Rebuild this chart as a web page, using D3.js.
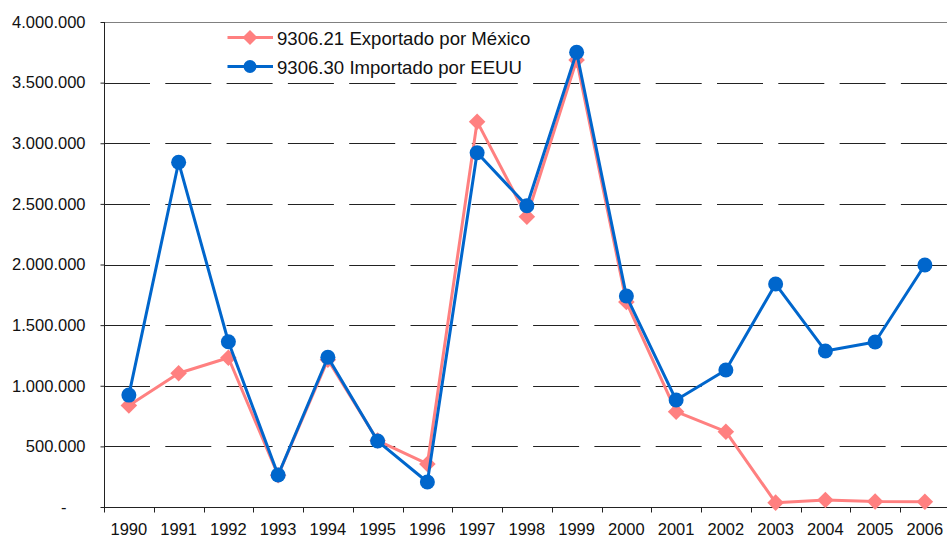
<!DOCTYPE html>
<html>
<head>
<meta charset="utf-8">
<script src="https://cdn.jsdelivr.net/npm/d3@7"></script>
<style>
  body { margin: 0; background: #fff; }
  svg { display: block; font-family: "Liberation Sans", Arial, sans-serif; }
</style>
</head>
<body>
<div id="chart"></div>
<script>
const years = ['1990','1991','1992','1993','1994','1995','1996','1997','1998','1999',
               '2000','2001','2002','2003','2004','2005','2006'];
// 9306.21 Exportado por México
const exportMx = [838000, 1103000, 1231000, 262000, 1215000, 548000, 355000, 3178000, 2394000, 3687000,
                  1690000, 786000, 621000, 36000, 58000, 45000, 44000];
// 9306.30 Importado por EEUU
const importUs = [923000, 2843000, 1363000, 264000, 1235000, 544000, 206000, 2922000, 2485000, 3750000,
                  1740000, 882000, 1130000, 1839000, 1287000, 1361000, 1996000];
const yTicks = [0, 500000, 1000000, 1500000, 2000000, 2500000, 3000000, 3500000, 4000000];
const seriesNames = ['9306.21 Exportado por México', '9306.30 Importado por EEUU'];

const chartW = 947, chartH = 537;
const plotLeft = 104, plotTop = 22, plotBottom = 507;
const step = 49.75;

const svg = d3.select('#chart').append('svg')
  .attr('width', chartW).attr('height', chartH);

const x = d3.scaleBand().domain(years).range([plotLeft, plotLeft + step * years.length]);
const y = d3.scaleLinear().domain([0, 4000000]).range([plotBottom, plotTop]);

const loc = d3.formatLocale({decimal: ',', thousands: '.', grouping: [3], currency: ['', '']});
const fmt = loc.format(',.0f');

// gridlines
svg.append('g')
  .selectAll('line')
  .data(yTicks.filter(d => d > 0))
  .enter().append('line')
    .attr('x1', plotLeft).attr('x2', chartW)
    .attr('y1', d => Math.round(y(d)) + 0.5)
    .attr('y2', d => Math.round(y(d)) + 0.5)
    .attr('stroke', d => d === 4000000 ? '#808080' : '#222')
    .attr('stroke-width', 1)
    .attr('stroke-dasharray', d => d === 4000000 ? null : '46,15.3');

// y axis
const yAxis = svg.append('g')
  .attr('transform', 'translate(' + (plotLeft + 0.5) + ',0)')
  .call(d3.axisLeft(y).tickValues(yTicks).tickSize(4).tickPadding(15)
    .tickFormat(d => d === 0 ? '-' : fmt(d)));
yAxis.select('.domain').attr('stroke', '#222').attr('d', 'M0,' + plotTop + 'V' + (plotBottom + 0.5));
yAxis.selectAll('.tick line').attr('stroke', '#222');
yAxis.selectAll('.tick text')
  .attr('font-size', 16.5).attr('fill', '#111')
  .attr('dx', d => d === 0 ? -19 : 0);

// x axis
const xAxis = svg.append('g')
  .attr('transform', 'translate(0,' + (plotBottom + 0.5) + ')')
  .call(d3.axisBottom(x).tickSize(0).tickPadding(15));
xAxis.select('.domain').remove();
xAxis.append('line').attr('x1', plotLeft).attr('x2', chartW).attr('stroke', '#222');
xAxis.selectAll('.bound')
  .data(years)
  .enter().append('line')
    .attr('class', 'bound')
    .attr('x1', d => Math.round(x(d)) + 0.5).attr('x2', d => Math.round(x(d)) + 0.5)
    .attr('y1', 0).attr('y2', 5)
    .attr('stroke', '#222');
xAxis.selectAll('.tick text').attr('font-size', 16.5).attr('fill', '#111').attr('dy', '0.75em');

const cx = (d, i) => x(years[i]) + x.bandwidth() / 2;
const line = d3.line().x((d, i) => cx(d, i)).y(d => y(d));

const pink = '#ff8080', blue = '#0066cc';
const diamond = d3.symbol().type(d3.symbolDiamond2).size(175);

// export series
svg.append('path').datum(exportMx)
  .attr('fill', 'none').attr('stroke', pink).attr('stroke-width', 3)
  .attr('stroke-linejoin', 'round').attr('d', line);
svg.selectAll('.dia').data(exportMx).enter().append('path')
  .attr('class', 'dia')
  .attr('transform', (d, i) => 'translate(' + cx(d, i) + ',' + y(d) + ')')
  .attr('d', diamond).attr('fill', pink);

// import series
svg.append('path').datum(importUs)
  .attr('fill', 'none').attr('stroke', blue).attr('stroke-width', 3)
  .attr('stroke-linejoin', 'round').attr('d', line);
svg.selectAll('.dot').data(importUs).enter().append('circle')
  .attr('class', 'dot')
  .attr('cx', (d, i) => cx(d, i)).attr('cy', d => y(d))
  .attr('r', 7.5).attr('fill', blue);

// legend
const legend = svg.append('g');
const rows = [{name: seriesNames[0], color: pink, yy: 37.5, shape: 'dia'},
              {name: seriesNames[1], color: blue, yy: 66.5, shape: 'dot'}];
rows.forEach(r => {
  legend.append('line')
    .attr('x1', 227.5).attr('x2', 273).attr('y1', r.yy).attr('y2', r.yy)
    .attr('stroke', r.color).attr('stroke-width', 3);
  if (r.shape === 'dia') {
    legend.append('path').attr('transform', 'translate(250,' + r.yy + ')')
      .attr('d', d3.symbol().type(d3.symbolDiamond2).size(145)).attr('fill', r.color);
  } else {
    legend.append('circle').attr('cx', 250).attr('cy', r.yy).attr('r', 6.5).attr('fill', r.color);
  }
  legend.append('text')
    .attr('x', 277).attr('y', r.yy + 7)
    .attr('font-size', 18.6).attr('fill', '#111')
    .text(r.name);
});
</script>
</body>
</html>
